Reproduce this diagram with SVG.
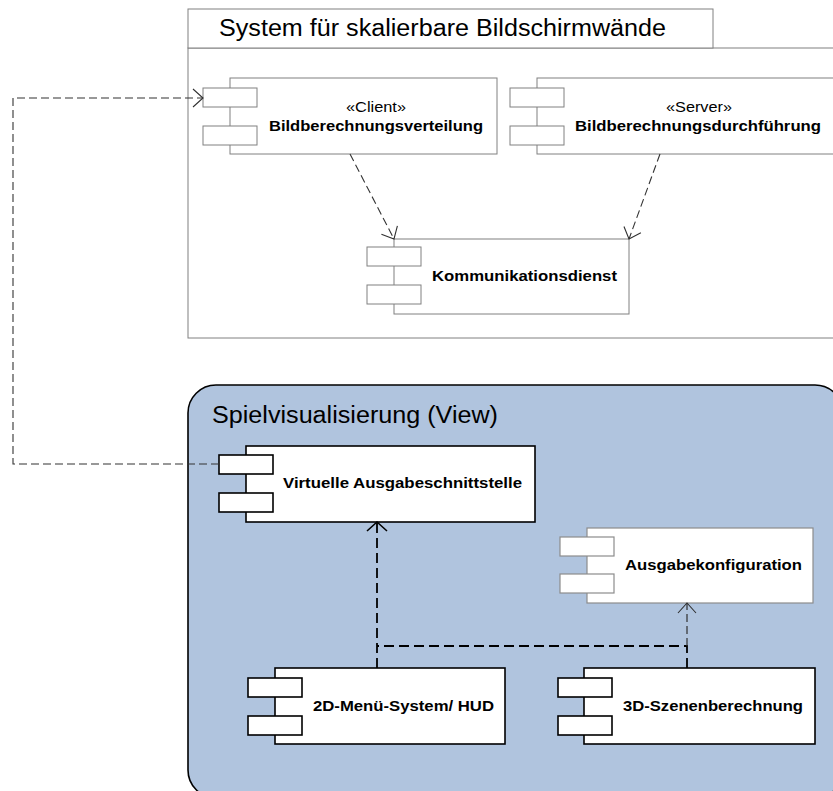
<svg xmlns="http://www.w3.org/2000/svg" width="833" height="791" viewBox="0 0 833 791">
<style>
  text { font-family: "Liberation Sans", Arial, sans-serif; fill: #000; }
  .title { font-size: 23px; }
  .stereo { font-size: 15px; }
  .lbl { font-size: 15.5px; font-weight: bold; }
  .gbox { fill: #fff; stroke: #808080; stroke-width: 1; }
  .kbox { fill: #fff; stroke: #000; stroke-width: 1.6; }
  .lbox { fill: #fff; stroke: #8c8c8c; stroke-width: 1.2; }
  .dashg { fill: none; stroke: #333; stroke-width: 1.1; stroke-dasharray: 8 4; }
  .dashk { fill: none; stroke: #000; stroke-width: 1.8; stroke-dasharray: 10 5; }
  .dashk2 { fill: none; stroke: #303030; stroke-width: 1.2; stroke-dasharray: 8 4; }
</style>
<defs>
  <marker id="openG" markerUnits="userSpaceOnUse" markerWidth="24" markerHeight="24" viewBox="-12 -12 24 24" refX="0" refY="0" orient="auto">
    <path d="M-10,-9 L0,0 L-10,9" fill="none" stroke="#303030" stroke-width="1.1"/>
  </marker>
  <marker id="openK" markerUnits="userSpaceOnUse" markerWidth="24" markerHeight="24" viewBox="-12 -12 24 24" refX="0" refY="0" orient="auto">
    <path d="M-9,-10 L0,0 L-9,10" fill="none" stroke="#000" stroke-width="1.6"/>
  </marker>
</defs>

<rect width="833" height="791" fill="#fff"/>

<!-- System container -->
<g id="system">
  <rect x="188" y="48" width="700" height="290" fill="#fff" stroke="#808080" stroke-width="1"/>
  <rect x="188" y="9" width="525" height="39" fill="#fff" stroke="#808080" stroke-width="1"/>
  <text class="title" x="219" y="36" textLength="447" lengthAdjust="spacingAndGlyphs">System für skalierbare Bildschirmwände</text>
</g>

<!-- View package -->
<g id="view">
  <rect x="188" y="385" width="655" height="413" rx="28" ry="28" fill="#b0c4de" stroke="#000" stroke-width="1.6"/>
  <text class="title" x="212" y="423" textLength="286" lengthAdjust="spacingAndGlyphs">Spielvisualisierung (View)</text>
</g>

<g id="client">
  <rect class="gbox" x="230" y="78" width="267" height="76"/>
  <rect class="gbox" x="203" y="88" width="54" height="19"/>
  <rect class="gbox" x="203" y="126" width="54" height="19"/>
  <text class="stereo" x="346" y="112" textLength="60" lengthAdjust="spacingAndGlyphs">«Client»</text>
  <text class="lbl" x="269" y="131" textLength="214" lengthAdjust="spacingAndGlyphs">Bildberechnungsverteilung</text>
</g>

<g id="server">
  <rect class="gbox" x="537" y="78" width="300" height="76"/>
  <rect class="gbox" x="510" y="88" width="54" height="19"/>
  <rect class="gbox" x="510" y="126" width="54" height="19"/>
  <text class="stereo" x="666" y="112" textLength="66" lengthAdjust="spacingAndGlyphs">«Server»</text>
  <text class="lbl" x="575" y="131" textLength="246" lengthAdjust="spacingAndGlyphs">Bildberechnungsdurchführung</text>
</g>

<g id="kommunikation">
  <rect class="gbox" x="394" y="239" width="235" height="75"/>
  <rect class="gbox" x="367" y="247" width="54" height="19"/>
  <rect class="gbox" x="367" y="285" width="54" height="19"/>
  <text class="lbl" x="432" y="281" textLength="185" lengthAdjust="spacingAndGlyphs">Kommunikationsdienst</text>
</g>

<g id="virtuelle">
  <rect class="kbox" x="246" y="446" width="289" height="76"/>
  <rect class="kbox" x="219" y="455" width="54" height="19"/>
  <rect class="kbox" x="219" y="493" width="54" height="19"/>
  <text class="lbl" x="283" y="488" textLength="239" lengthAdjust="spacingAndGlyphs">Virtuelle Ausgabeschnittstelle</text>
</g>

<g id="ausgabekonfiguration">
  <rect class="lbox" x="587" y="528" width="226" height="75"/>
  <rect class="lbox" x="560" y="537" width="54" height="19"/>
  <rect class="lbox" x="560" y="574" width="54" height="19"/>
  <text class="lbl" x="625" y="570" textLength="177" lengthAdjust="spacingAndGlyphs">Ausgabekonfiguration</text>
</g>

<g id="menu2d">
  <rect class="kbox" x="275" y="668" width="230" height="76"/>
  <rect class="kbox" x="248" y="678" width="54" height="19"/>
  <rect class="kbox" x="248" y="716" width="54" height="19"/>
  <text class="lbl" x="313" y="711" textLength="181" lengthAdjust="spacingAndGlyphs">2D-Menü-System/ HUD</text>
</g>

<g id="szene3d">
  <rect class="kbox" x="584" y="668" width="231" height="76"/>
  <rect class="kbox" x="558" y="678" width="54" height="19"/>
  <rect class="kbox" x="558" y="716" width="54" height="19"/>
  <text class="lbl" x="623" y="711" textLength="180" lengthAdjust="spacingAndGlyphs">3D-Szenenberechnung</text>
</g>

<g id="connectors">
  <path class="dashg" d="M350,154 L394,239" marker-end="url(#openG)"/>
  <path class="dashg" d="M660,154 L629,239" marker-end="url(#openG)"/>
  <path class="dashg" d="M219,464 H13 V98 H203" marker-end="url(#openG)"/>
  <path class="dashk" d="M377,668 V522" marker-end="url(#openK)"/>
  <path class="dashk" d="M687,668 V646 H377"/>
  <path class="dashk2" d="M687,646 V603" marker-end="url(#openG)"/>
</g>
</svg>
